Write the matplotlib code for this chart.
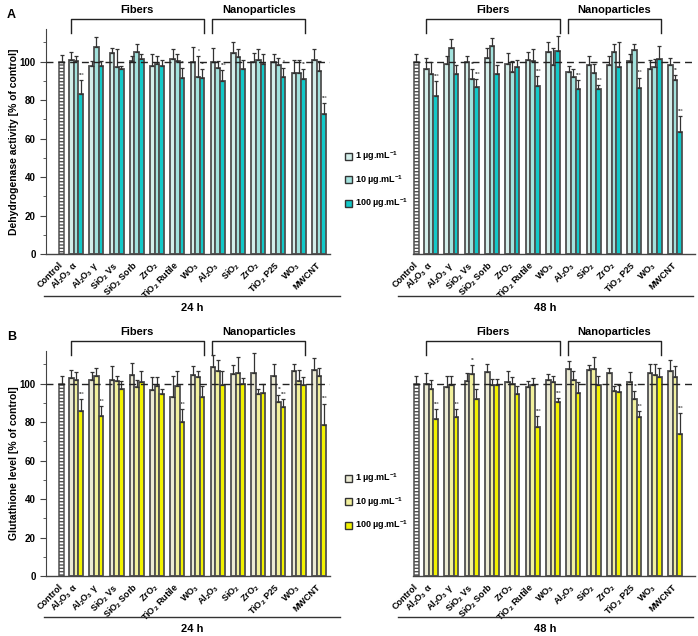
import matplotlib
matplotlib.use("Agg")
import matplotlib.pyplot as plt
import matplotlib.patches as mpatches
from matplotlib.lines import Line2D
from matplotlib.ticker import MultipleLocator
import numpy as np

plt.rcParams["font.family"] = ["Liberation Sans", "DejaVu Sans"]
plt.rcParams["font.weight"] = "bold"
plt.rcParams["mathtext.fontset"] = "custom"
plt.rcParams["mathtext.rm"] = "Liberation Sans:bold"
plt.rcParams["mathtext.it"] = "Liberation Sans:bold"
plt.rcParams["mathtext.bf"] = "Liberation Sans:bold"
plt.rcParams["mathtext.default"] = "rm"

CATEGORIES = ["Control", "Al$_2$O$_3$ α", "Al$_2$O$_3$ γ", "SiO$_2$ Vs", "SiO$_2$ Sorb",
              "ZrO$_2$", "TiO$_2$ Rutile", "WO$_3$", "Al$_2$O$_3$", "SiO$_2$", "ZrO$_2$",
              "TiO$_2$ P25", "WO$_3$", "MWCNT"]
DOSES = ["1 µg.mL$^{-1}$", "10 µg.mL$^{-1}$", "100 µg.mL$^{-1}$"]
CONTROL = 100

# ---- A: dehydrogenase activity, 24 h ----
dh24_1 = [101, 97.7, 104.3, 100.5, 97.7, 101.6, 100, 100, 104.3, 100, 100, 94.3, 100.9]
dh24_2 = [100.2, 107.6, 97.2, 105, 99, 100.2, 92, 96.9, 102.6, 100.7, 98.3, 94.3, 95.1]
dh24_3 = [83.3, 98, 96, 101.6, 97.7, 91.5, 91.3, 90, 96.3, 99, 92.2, 91.1, 73]
dh24_sd1 = [4.0, 2.6, 2.7, 2.5, 6.3, 4.8, 7.6, 7.0, 5.7, 4.7, 3.8, 6.6, 5.9]
dh24_sd2 = [2.8, 5.4, 9.6, 4.4, 4.0, 3.8, 11.0, 3.3, 4.2, 6.1, 3.7, 6.6, 5.2]
dh24_sd3 = [7.0, 2.3, 2.0, 2.4, 3.3, 5.0, 4.7, 5.5, 4.7, 4.8, 4.7, 4.9, 5.3]
dh24_ctrl_sd = 3.5
dh24_st2 = ["", "", "", "", "", "", "*", "", "", "", "", "", ""]
dh24_st3 = ["***", "", "", "", "", "**", "**", "***", "", "", "*", "**", "***"]

# ---- A: dehydrogenase activity, 48 h ----
dh48_1 = [96, 98.6, 99.8, 102, 98.6, 100.7, 105, 94.8, 98.3, 98.1, 100.3, 96.3, 98.1]
dh48_2 = [93.4, 107.3, 90.8, 108.2, 94.8, 100.3, 98.3, 92, 94.3, 105, 105.9, 97.4, 90.3]
dh48_3 = [82.4, 93.4, 87, 93.4, 97.2, 87.3, 105.6, 85.9, 85.9, 97.2, 86.4, 101.2, 63.3]
dh48_sd1 = [6.0, 4.4, 3.2, 5.3, 5.7, 4.3, 5.0, 2.9, 4.7, 4.9, 3.5, 4.7, 3.9]
dh48_sd2 = [6.4, 4.7, 5.5, 4.3, 5.5, 6.1, 9.0, 4.0, 4.3, 4.4, 3.5, 4.2, 2.7]
dh48_sd3 = [7.5, 4.9, 3.8, 4.9, 3.8, 5.2, 7.8, 4.5, 1.8, 12.8, 5.3, 7.0, 8.4]
dh48_ctrl_sd = 3.8
dh48_st2 = ["", "", "**", "", "", "", "", "", "", "", "", "", "**"]
dh48_st3 = ["***", "", "***", "", "", "***", "", "***", "***", "", "***", "", "***"]

# ---- B: glutathione level, 24 h ----
gsh24_1 = [102.9, 102, 102, 104.7, 96.9, 93.1, 104.7, 108.6, 105, 105.5, 103.8, 106.7, 107.2]
gsh24_2 = [101.7, 103.8, 101.6, 98.3, 98.6, 98.6, 103.3, 106.7, 105.5, 94.7, 90.5, 101.6, 103.8]
gsh24_3 = [86, 83.1, 97.4, 100.9, 94.7, 80, 93.1, 99.5, 100, 95.2, 87.8, 99.5, 78.3]
gsh24_sd1 = [4.0, 3.9, 7.3, 6.0, 6.5, 10.7, 4.6, 6.1, 4.8, 10.4, 6.4, 3.6, 6.1]
gsh24_sd2 = [4.2, 4.3, 2.5, 3.4, 4.8, 7.8, 3.1, 5.7, 8.6, 2.7, 3.8, 5.6, 4.3]
gsh24_sd3 = [6.0, 5.2, 4.2, 5.5, 2.7, 6.9, 5.9, 7.2, 2.9, 4.8, 4.2, 3.9, 11.4]
gsh24_ctrl_sd = 3.8
gsh24_st2 = ["", "", "", "", "", "", "", "", "", "", "**", "", ""]
gsh24_st3 = ["***", "***", "", "", "", "***", "", "", "", "", "***", "", "***"]

# ---- B: glutathione level, 48 h ----
gsh48_1 = [100, 98.1, 101.2, 106, 100.9, 98.3, 102, 107.6, 107.2, 105.5, 100.7, 105.5, 106.4]
gsh48_2 = [97.2, 99.1, 105, 99.5, 100, 99.5, 100.7, 101.7, 107.8, 96.4, 92, 104.3, 103.3]
gsh48_3 = [81.7, 82.6, 92, 99.5, 94.8, 77.4, 90.3, 95.2, 99.5, 95.5, 82.8, 103.3, 74]
gsh48_sd1 = [5.5, 6.0, 4.3, 4.3, 5.5, 2.9, 3.2, 4.3, 2.6, 2.6, 5.3, 4.7, 6.0]
gsh48_sd2 = [4.8, 4.7, 4.8, 3.1, 3.3, 3.4, 3.4, 4.7, 6.3, 2.2, 4.0, 5.9, 5.7]
gsh48_sd3 = [5.2, 4.3, 5.2, 3.1, 3.8, 5.7, 2.3, 5.5, 4.3, 4.0, 2.9, 4.8, 10.8]
gsh48_ctrl_sd = 3.8
gsh48_st2 = ["", "", "**", "", "", "", "", "", "", "", "**", "", ""]
gsh48_st3 = ["***", "***", "", "", "", "***", "***", "", "", "", "***", "", "***"]

CYAN = ["#d3eeea", "#a2e2dd", "#12c8c8"]
YELLOW = ["#ebead3", "#f1f09c", "#f2f200"]
EDGE = "#505050"

W, H = 698, 636
fig = plt.figure(figsize=(W / 100, H / 100), dpi=100)


def add_axes(left, top, right, bottom):
    return fig.add_axes([left / W, 1 - bottom / H, (right - left) / W, (bottom - top) / H])


def draw_panel(ax, vals, sds, stars2, stars3, ctrl_sd, colors, show_y, xlim):
    groups = np.arange(1, 14)
    ctrl_x = 0.28
    bw = 0.23
    ax.bar(ctrl_x, CONTROL, width=0.25, color="white", edgecolor=EDGE,
           linewidth=1.1, hatch="-----", zorder=2)
    ax.errorbar(ctrl_x, CONTROL, yerr=[[0], [ctrl_sd]], fmt="none", ecolor="#333333",
                elinewidth=0.9, capsize=1.6, capthick=0.9, zorder=3)
    offs = [-bw, 0, bw]
    for k in range(3):
        x = groups + offs[k]
        ax.bar(x, vals[k], width=bw, color=colors[k], edgecolor=EDGE,
               linewidth=1.3, zorder=2)
        ax.errorbar(x, vals[k], yerr=[np.zeros(13), sds[k]], fmt="none",
                    ecolor="#333333", elinewidth=0.9, capsize=1.6, capthick=0.9, zorder=3)
    for k, st in ((1, stars2), (2, stars3)):
        for i, s in enumerate(st):
            if s:
                ax.text(groups[i] + offs[k] + 0.05, vals[k][i] + sds[k][i] + 1.2, s,
                        fontsize=3.5, color="#666666", ha="center", va="bottom")
    ax.axhline(100, color="#222222", lw=1.0, dashes=(5, 3.5), zorder=4)
    ax.set_xlim(*xlim)
    ax.set_ylim(0, 117)
    ax.set_xticks([ctrl_x] + list(groups))
    ax.set_xticklabels(CATEGORIES, rotation=45, ha="right", va="center",
                       rotation_mode="anchor", fontsize=6.5, fontweight="bold")
    ax.tick_params(axis="x", length=0, pad=7)
    ax.spines[["top", "right"]].set_visible(False)
    ax.spines["bottom"].set_color("#444444")
    ax.spines["bottom"].set_linewidth(1.0)
    if show_y:
        ax.spines["left"].set_color("#444444")
        ax.yaxis.set_minor_locator(MultipleLocator(10))
        ax.set_yticks([0, 20, 40, 60, 80, 100])
        ax.tick_params(axis="y", which="major", length=4, labelsize=7, color="#444444")
        ax.tick_params(axis="y", which="minor", length=2.5, color="#444444")
        for t in ax.get_yticklabels():
            t.set_fontweight("bold")
    else:
        ax.spines["left"].set_visible(False)
        ax.set_yticks([])
    # brackets
    for g0, g1, lab in ((1, 7, "Fibers"), (8, 12, "Nanoparticles")):
        xa, xb = g0 - 0.27, g1 + 0.32
        ax.plot([xa, xa, xb, xb], [115, 122.3, 122.3, 115], color="#222222",
                lw=1.0, clip_on=False)
        ax.text((xa + xb) / 2, 127, lab, ha="center", va="center", fontsize=8,
                fontweight="bold")


def time_label(x0, x1, yline, ytext, lab):
    fig.add_artist(Line2D([x0 / W, x1 / W], [1 - yline / H] * 2, color="#333333", lw=1.0))
    fig.text((x0 + x1) / 2 / W, 1 - ytext / H, lab, ha="center", va="center",
             fontsize=8, fontweight="bold")


panels = [
    (29, 254, [dh24_1, dh24_2, dh24_3], [dh24_sd1, dh24_sd2, dh24_sd3], dh24_st2, dh24_st3, dh24_ctrl_sd,
     [dh48_1, dh48_2, dh48_3], [dh48_sd1, dh48_sd2, dh48_sd3], dh48_st2, dh48_st3, dh48_ctrl_sd,
     CYAN, "Dehydrogenase activity [% of control]", "A", 296, 308),
    (351, 576, [gsh24_1, gsh24_2, gsh24_3], [gsh24_sd1, gsh24_sd2, gsh24_sd3], gsh24_st2, gsh24_st3, gsh24_ctrl_sd,
     [gsh48_1, gsh48_2, gsh48_3], [gsh48_sd1, gsh48_sd2, gsh48_sd3], gsh48_st2, gsh48_st3, gsh48_ctrl_sd,
     YELLOW, "Glutathione level [% of control]", "B", 617, 629),
]

for (top, bot, v24, s24, a24, b24, c24, v48, s48, a48, b48, c48,
     cols, ylab, letter, yline, ytext) in panels:
    axl = add_axes(46, top, 330, bot)
    draw_panel(axl, v24, s24, a24, b24, c24, cols, True, (-0.49, 13.55))
    axr = add_axes(413, top, 695, bot)
    draw_panel(axr, v48, s48, a48, b48, c48, cols, False, (0.11, 13.98))
    fig.text(14 / W, 1 - (top + bot) / 2 / H, ylab, rotation=90, ha="center",
             va="center", fontsize=7.5, fontweight="bold")
    fig.text(7 / W, 1 - (top - 14) / H, letter, ha="left", va="center",
             fontsize=9, fontweight="bold")
    time_label(44, 340, yline, ytext, "24 h")
    time_label(398, 693, yline, ytext, "48 h")
    handles = [mpatches.Patch(facecolor=c, edgecolor="#333333", linewidth=1.0) for c in cols]
    fig.legend(handles, DOSES, loc="center left",
               bbox_to_anchor=(337 / W, 1 - (top + 151) / H), frameon=False,
               handlelength=0.8, handleheight=0.8, handletextpad=0.3,
               labelspacing=1.1, prop={"size": 6.5, "weight": "bold"})

fig.savefig("out.png", dpi=100)
